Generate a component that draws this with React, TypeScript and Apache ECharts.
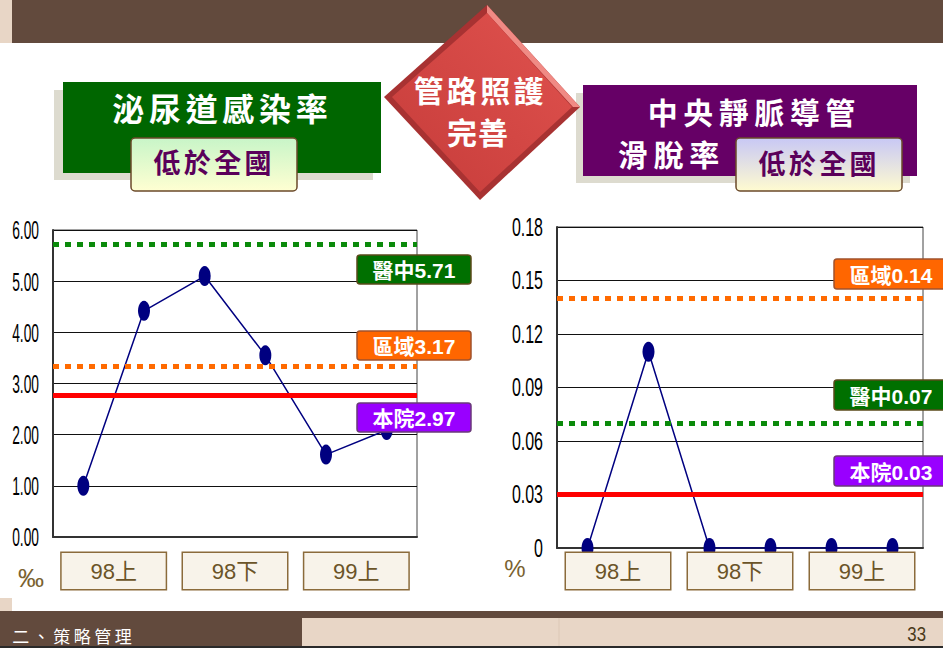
import React, { useEffect, useRef } from "react";
import * as echarts from "echarts";

// ---- data ----
const pointCategories = ["98上(1)", "98上(2)", "98下(1)", "98下(2)", "99上(1)", "99上(2)"];
const periodLabels = ["98上", "98下", "99上"];

const utiRate = [1.0, 4.42, 5.1, 3.55, 1.61, 2.09];
const utiRefValues = [5.72, 3.34, 2.77];
const utiRefLabels = ["醫中5.71", "區域3.17", "本院2.97"];
const utiTicks = [0, 1, 2, 3, 4, 5, 6];
const utiTickLabels = ["0.00", "1.00", "2.00", "3.00", "4.00", "5.00", "6.00"];

const cvcRate = [0, 0.11, 0, 0, 0, 0];
const cvcRefValues = [0.069, 0.14, 0.0297];
const cvcRefLabels = ["醫中0.07", "區域0.14", "本院0.03"];
const cvcTicks = [0, 0.03, 0.06, 0.09, 0.12, 0.15, 0.18];
const cvcTickLabels = ["0", "0.03", "0.06", "0.09", "0.12", "0.15", "0.18"];

const refColors = ["#0a8a0a", "#ff6a00", "#ff0000"];
const refDashed = [true, true, false];
const refBoxFill = ["#007000", "#ff6600", "#9900ff"];
const refBoxStroke = ["#5a4a1a", "#a0522d", "#6a3a7a"];

const CJK = "'Noto Sans CJK TC', 'Noto Sans CJK SC', sans-serif";
const LATIN = "'Liberation Sans', 'Noto Sans CJK TC', sans-serif";

function spacedText(str: string, cx: number, cy: number, pitch: number, fontSize: number, color: string, weight = "bold") {
  const chars = Array.from(str);
  const start = cx - (pitch * (chars.length - 1)) / 2;
  return chars.map((ch, i) => ({
    type: "text",
    x: start + i * pitch,
    y: cy,
    z: 20,
    style: {
      text: ch,
      fill: color,
      font: `${weight} ${fontSize}px ${CJK}`,
      align: "center",
      verticalAlign: "middle",
    },
  }));
}

function refBoxes(labels: string[], x: number, ys: number[], w: number, h: number) {
  const out: any[] = [];
  labels.forEach((t, i) => {
    out.push({
      type: "rect",
      z: 20,
      shape: { x, y: ys[i], width: w, height: h, r: 3 },
      style: { fill: refBoxFill[i], stroke: refBoxStroke[i], lineWidth: 1.5 },
    });
    out.push({
      type: "text",
      z: 21,
      x: x + w / 2,
      y: ys[i] + h / 2 + 1,
      style: {
        text: t,
        fill: "#ffffff",
        font: `bold 21px ${LATIN}`,
        align: "center",
        verticalAlign: "middle",
      },
    });
  });
  return out;
}

function markLineData(values: number[]) {
  return values.map((v, i) => ({
    yAxis: v,
    lineStyle: {
      color: refColors[i],
      width: 5,
      type: refDashed[i] ? [6, 6] : "solid",
      cap: "butt",
    },
  }));
}

const labelAxisStyle = (margin: number) => ({
  show: true,
  margin,
  color: "#6b5428",
  fontSize: 22,
  fontFamily: LATIN,
  width: 104,
  height: 36,
  lineHeight: 36,
  align: "center",
  verticalAlign: "top",
  backgroundColor: "#f8f3ea",
  borderColor: "#8b6b3b",
  borderWidth: 1.5,
});

export default function App() {
  const ref = useRef<HTMLDivElement>(null);

  useEffect(() => {
    if (!ref.current) return;
    const chart = echarts.init(ref.current, null, { renderer: "svg" });

    const graphic: any[] = [
      // header
      { type: "rect", shape: { x: 12, y: 0, width: 931, height: 43 }, style: { fill: "#624a3d" } },
      { type: "rect", shape: { x: 0, y: 0, width: 12, height: 43 }, style: { fill: "#e8d6c6" } },
      // left title
      { type: "rect", z: 15, shape: { x: 54, y: 90, width: 319, height: 90 }, style: { fill: "#dddbcf" } },
      { type: "rect", z: 16, shape: { x: 63, y: 82, width: 318, height: 91 }, style: { fill: "#006600" } },
      ...spacedText("泌尿道感染率", 220, 107, 36.7, 32, "#ffffff"),
      {
        type: "rect",
        z: 17,
        shape: { x: 131, y: 138, width: 166, height: 53, r: 4 },
        style: {
          fill: new echarts.graphic.LinearGradient(0, 0, 0, 1, [
            { offset: 0, color: "#c8f5c8" },
            { offset: 1, color: "#ffffd2" },
          ]),
          stroke: "#6b4a2a",
          lineWidth: 1.5,
        },
      },
      ...spacedText("低於全國", 212.5, 161, 30.3, 27, "#5a005a"),
      // right title
      { type: "rect", z: 15, shape: { x: 576, y: 93, width: 334, height: 90 }, style: { fill: "#dddbcf" } },
      { type: "rect", z: 16, shape: { x: 583, y: 85, width: 334, height: 91 }, style: { fill: "#660066" } },
      ...spacedText("中央靜脈導管", 751.5, 111, 35.5, 30, "#ffffff"),
      ...spacedText("滑脫率", 668.5, 153, 35.7, 30, "#ffffff"),
      {
        type: "rect",
        z: 17,
        shape: { x: 736, y: 138, width: 166, height: 53, r: 4 },
        style: {
          fill: new echarts.graphic.LinearGradient(0, 0, 0, 1, [
            { offset: 0, color: "#c8c8f5" },
            { offset: 1, color: "#fffbd0" },
          ]),
          stroke: "#6b4a2a",
          lineWidth: 1.5,
        },
      },
      ...spacedText("低於全國", 817.5, 162, 30.3, 27, "#5a005a"),
      // diamond
      {
        type: "polygon",
        z: 18,
        shape: { points: [[487, 5], [580, 107], [480, 200], [384, 97]] },
        style: { fill: "#a83232" },
      },
      {
        type: "polygon",
        z: 18,
        shape: { points: [[487, 5], [580, 107], [573, 107], [487, 13]] },
        style: { fill: "#f08a84" },
      },
      {
        type: "polygon",
        z: 19,
        shape: { points: [[487, 13], [572, 107], [480, 192], [392, 97]] },
        style: {
          fill: new echarts.graphic.LinearGradient(1, 0, 0, 1, [
            { offset: 0, color: "#e0524e" },
            { offset: 1, color: "#c63c3a" },
          ]),
        },
      },
      ...spacedText("管路照護", 478.5, 89, 33.3, 30, "#ffffff"),
      ...spacedText("完善", 477.5, 131, 31, 30, "#ffffff"),
      // reference labels
      ...refBoxes(utiRefLabels, 357, [255, 331, 403], 114, 29),
      ...refBoxes(cvcRefLabels, 834, [380, 259, 456], 114, 30),
      // units
      {
        type: "text",
        x: 31,
        y: 578,
        style: { text: "‰", fill: "#7a6230", font: `26px ${LATIN}`, align: "center", verticalAlign: "middle" },
      },
      {
        type: "text",
        x: 515,
        y: 568,
        style: { text: "%", fill: "#7a6230", font: `24px ${LATIN}`, align: "center", verticalAlign: "middle" },
      },
      // footer
      { type: "rect", shape: { x: 0, y: 598, width: 12, height: 14 }, style: { fill: "#e8d6c6" } },
      { type: "rect", shape: { x: 0, y: 611, width: 943, height: 7 }, style: { fill: "#624a3d" } },
      { type: "rect", shape: { x: 0, y: 611, width: 302, height: 35 }, style: { fill: "#624a3d" } },
      { type: "rect", shape: { x: 302, y: 618, width: 641, height: 28 }, style: { fill: "#e8d6c6" } },
      { type: "line", shape: { x1: 559, y1: 618, x2: 559, y2: 646 }, style: { stroke: "#dcc8b6", lineWidth: 1 } },
      { type: "rect", shape: { x: 0, y: 646, width: 943, height: 2 }, style: { fill: "#2a2a2a" } },
      ...spacedText("二、策略管理", 72, 635, 20.5, 17, "#ffffff", "normal"),
      {
        type: "text",
        x: 926,
        y: 634,
        scaleX: 0.8,
        style: { text: "33", fill: "#4a3a1a", font: `21px ${LATIN}`, align: "right", verticalAlign: "middle" },
      },
    ];

    const pointAxis = (gridIndex: number) => ({
      type: "category",
      gridIndex,
      data: pointCategories,
      boundaryGap: true,
      position: "bottom",
      axisLine: { show: true, lineStyle: { color: "#333", width: 2 } },
      axisTick: { show: false },
      axisLabel: { show: false },
      splitLine: { show: false },
    });

    const periodAxis = (gridIndex: number, margin: number) => ({
      type: "category",
      gridIndex,
      data: periodLabels,
      boundaryGap: true,
      position: "bottom",
      z: 10,
      axisLine: { show: false },
      axisTick: { show: false },
      axisLabel: labelAxisStyle(margin),
      splitLine: { show: false },
    });

    const valueAxis = (gridIndex: number, max: number, interval: number) => ({
      type: "value",
      gridIndex,
      min: 0,
      max,
      interval,
      axisLine: { show: true, lineStyle: { color: "#333", width: 2 } },
      axisTick: { show: false },
      axisLabel: { show: false },
      splitLine: { show: true, lineStyle: { color: "#111", width: 1 } },
    });

    const lineSeries = (xAxisIndex: number, yAxisIndex: number, data: number[], refs: number[], name: string) => ({
      type: "line",
      name,
      xAxisIndex,
      yAxisIndex,
      data,
      z: 3,
      symbol: "circle",
      symbolSize: [12, 20],
      itemStyle: { color: "#000080" },
      lineStyle: { color: "#000080", width: 1.5 },
      markLine: {
        silent: true,
        symbol: ["none", "none"],
        label: { show: false },
        z: 5,
        data: markLineData(refs),
      },
    });

    chart.setOption({
      animation: false,
      graphic,
      grid: [
        { left: 53, top: 230, width: 364, height: 307, show: true, borderColor: "#444", borderWidth: 1 },
        { left: 557, top: 227, width: 366, height: 321, show: true, borderColor: "#444", borderWidth: 1 },
      ],
      xAxis: [pointAxis(0), periodAxis(0, 16), pointAxis(1), periodAxis(1, 5)],
      yAxis: [valueAxis(0, 6, 1), valueAxis(1, 0.18, 0.03)],
      series: [
        lineSeries(0, 0, utiRate, utiRefValues, "泌尿道感染率"),
        lineSeries(2, 1, cvcRate, cvcRefValues, "中央靜脈導管滑脫率"),
      ],
    });

    // condensed tick labels placed through the y axes' own scales
    const tickText = (axisIndex: number, ticks: number[], labels: string[], right: number, font: number, sx: number) =>
      ticks.map((v, i) => ({
        type: "text",
        x: right,
        y: chart.convertToPixel({ yAxisIndex: axisIndex } as any, v) as number,
        scaleX: sx,
        z: 20,
        style: {
          text: labels[i],
          fill: "#000000",
          font: `${font}px ${LATIN}`,
          align: "right",
          verticalAlign: "middle",
        },
      }));

    chart.setOption({
      graphic: [
        ...graphic,
        ...tickText(0, utiTicks, utiTickLabels, 39, 26, 0.53),
        ...tickText(1, cvcTicks, cvcTickLabels, 543, 25, 0.64),
      ],
    });

    return () => chart.dispose();
  }, []);

  return (
    <div
      ref={ref}
      style={{ position: "fixed", left: 0, top: 0, width: 943, height: 648, background: "#ffffff" }}
    />
  );
}
